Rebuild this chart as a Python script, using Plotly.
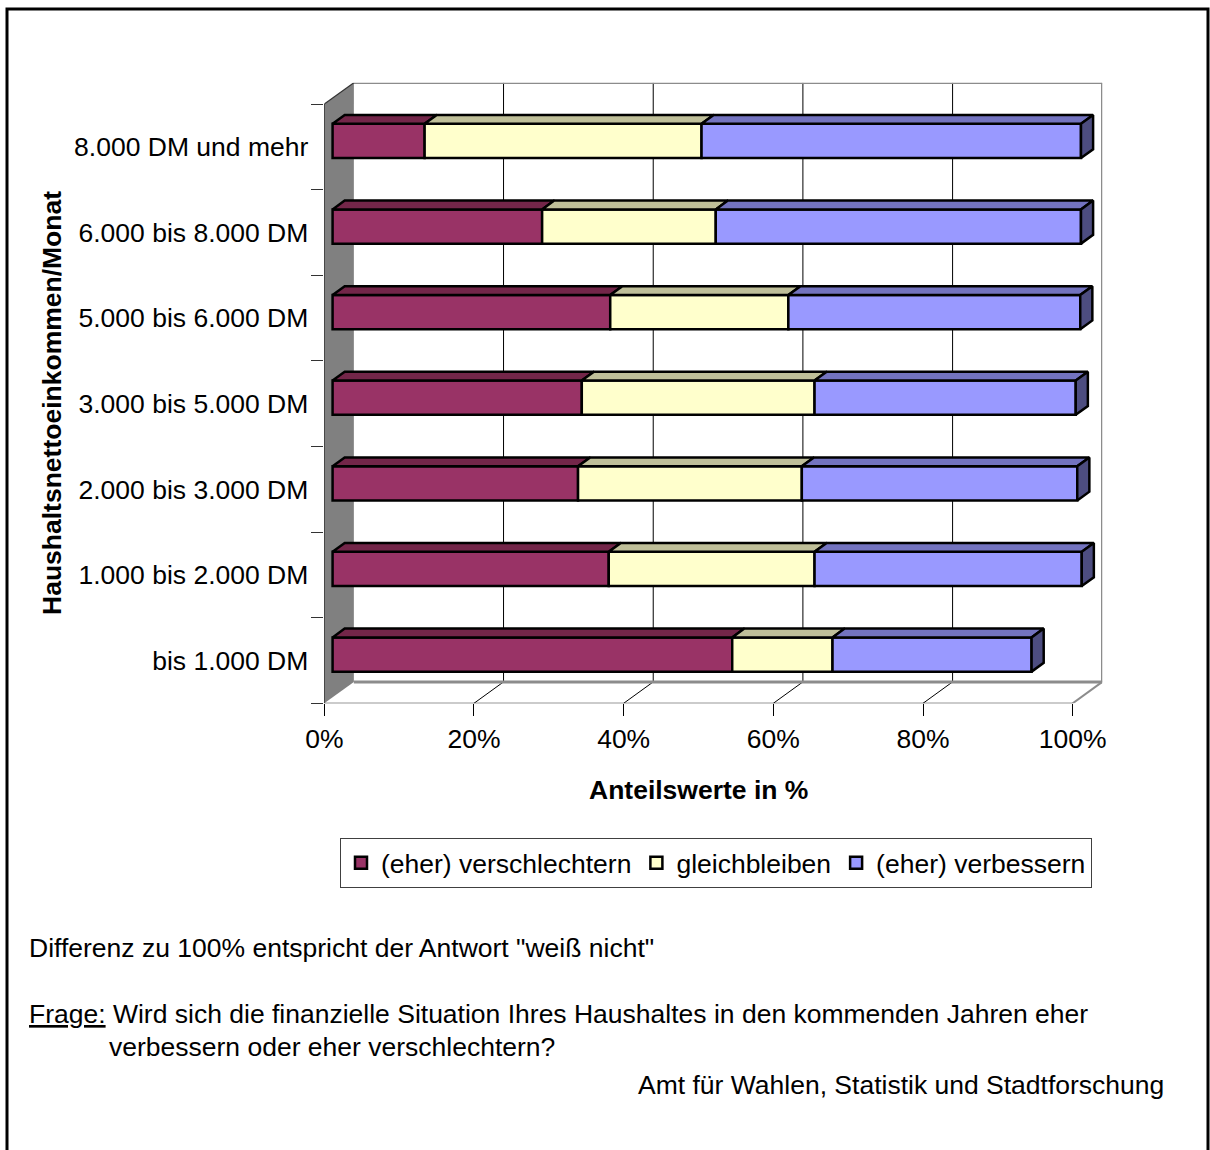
import plotly.graph_objects as go

# ---------------- data ----------------
categories = ["bis 1.000 DM", "1.000 bis 2.000 DM", "2.000 bis 3.000 DM",
              "3.000 bis 5.000 DM", "5.000 bis 6.000 DM", "6.000 bis 8.000 DM",
              "8.000 DM und mehr"]
verschlechtern = [53.4, 36.9, 32.8, 33.3, 37.1, 28.0, 12.3]
gleichbleiben = [13.4, 27.5, 29.9, 31.1, 23.8, 23.2, 37.0]
verbessern = [26.6, 35.7, 36.8, 34.9, 39.0, 48.8, 50.7]
series_names = ["(eher) verschlechtern", "gleichbleiben", "(eher) verbessern"]
x_ticks = [0, 20, 40, 60, 80, 100]
x_ticktext = ["0%", "20%", "40%", "60%", "80%", "100%"]

# ---------------- styling / geometry ----------------
W, H = 1210, 1150
FONT = "Liberation Sans, Arial, sans-serif"
FS = 26.5
DX, DY = 3.95, 0.25          # 3D depth offset in data units
D0, D1 = 0.28, 0.69          # bar front / back depth fraction
BW = 0.40                    # bar thickness (category units)
front_cols = ["#993366", "#FFFFCC", "#9999FF"]
top_cols = ["#732649", "#BFBF99", "#7373BF"]
side_col = "#4D4D80"

px0, px_per = 324.3, 7.484
x_range = [0, 100 + DX]
y_range = [-0.5, len(categories) - 0.5 + DY]
xdom = [px0 / W, (px0 + (x_range[1]) * px_per) / W]
ydom = [1 - 703.3 / H, 1 - 82.7 / H]


def P(x, y, d):
    return x + d * DX, y + d * DY


fig = go.Figure()

series = [verschlechtern, gleichbleiben, verbessern]
n = len(categories)
starts = [[0.0] * n for _ in series]
for i in range(n):
    acc = 0.0
    for s in range(len(series)):
        starts[s][i] = acc
        acc += series[s][i]

# front faces as bars
for s, vals in enumerate(series):
    fig.add_trace(go.Bar(
        orientation="h",
        y=[i + D0 * DY for i in range(n)],
        x=vals,
        base=[starts[s][i] + D0 * DX for i in range(n)],
        width=BW,
        name=series_names[s],
        marker=dict(color=front_cols[s], line=dict(color="black", width=2.5)),
        hoverinfo="skip",
    ))

# top faces
for s, vals in enumerate(series):
    xs, ys = [], []
    for i in range(n):
        x0 = starts[s][i]
        x1 = x0 + vals[i]
        yt = i + BW / 2
        for (px, py) in [P(x0, yt, D0), P(x1, yt, D0), P(x1, yt, D1), P(x0, yt, D1), P(x0, yt, D0)]:
            xs.append(px)
            ys.append(py)
        xs.append(None)
        ys.append(None)
    fig.add_trace(go.Scatter(x=xs, y=ys, mode="lines", fill="toself",
                             fillcolor=top_cols[s], line=dict(color="black", width=2.5),
                             showlegend=False, hoverinfo="skip"))

# right side faces of last segment
xs, ys = [], []
for i in range(n):
    xe = starts[-1][i] + series[-1][i]
    yb, yt = i - BW / 2, i + BW / 2
    for (px, py) in [P(xe, yb, D0), P(xe, yt, D0), P(xe, yt, D1), P(xe, yb, D1), P(xe, yb, D0)]:
        xs.append(px)
        ys.append(py)
    xs.append(None)
    ys.append(None)
fig.add_trace(go.Scatter(x=xs, y=ys, mode="lines", fill="toself", fillcolor=side_col,
                         line=dict(color="black", width=2.5), showlegend=False, hoverinfo="skip"))

# dummy trace for the label axis
fig.add_trace(go.Scatter(x=[None], y=[None], yaxis="y2", showlegend=False, hoverinfo="skip"))

# ---------------- walls, floor, gridlines (shapes) ----------------
shapes = []
ylo, yhi = -0.5, n - 0.5
# left wall
shapes.append(dict(type="path", xref="x", yref="y", layer="below",
                   path=f"M 0 {ylo} L 0 {yhi} L {DX} {yhi + DY} L {DX} {ylo + DY} Z",
                   fillcolor="#808080", line=dict(width=0)))
# gridlines on back wall + floor lines
for t in x_ticks[1:-1]:
    shapes.append(dict(type="line", xref="x", yref="y", layer="below",
                       x0=t + DX, x1=t + DX, y0=ylo + DY, y1=yhi + DY,
                       line=dict(color="black", width=1)))
    shapes.append(dict(type="line", xref="x", yref="y", layer="below",
                       x0=t, x1=t + DX, y0=ylo, y1=ylo + DY,
                       line=dict(color="black", width=1)))
# back wall border
shapes.append(dict(type="line", xref="x", yref="y", layer="below",
                   x0=DX, x1=100 + DX, y0=yhi + DY, y1=yhi + DY,
                   line=dict(color="#8c8c8c", width=2.5)))
shapes.append(dict(type="line", xref="x", yref="y", layer="below",
                   x0=100 + DX, x1=100 + DX, y0=ylo + DY, y1=yhi + DY,
                   line=dict(color="#8c8c8c", width=2.5)))
shapes.append(dict(type="line", xref="x", yref="y", layer="below",
                   x0=DX, x1=100 + DX, y0=ylo + DY, y1=ylo + DY,
                   line=dict(color="#8c8c8c", width=3)))
shapes.append(dict(type="line", xref="x", yref="y", layer="below",
                   x0=100, x1=100 + DX, y0=ylo, y1=ylo + DY,
                   line=dict(color="#8c8c8c", width=2)))
# front floor edge
shapes.append(dict(type="line", xref="x", yref="y", layer="below",
                   x0=0, x1=100, y0=ylo, y1=ylo,
                   line=dict(color="#333333", width=1.2)))
# left axis line + top diagonal
shapes.append(dict(type="line", xref="x", yref="y", layer="below",
                   x0=0, x1=0, y0=ylo, y1=yhi, line=dict(color="black", width=1.2)))
shapes.append(dict(type="line", xref="x", yref="y", layer="below",
                   x0=0, x1=DX, y0=yhi, y1=yhi + DY, line=dict(color="#333333", width=1.2)))
# outer frame
shapes.append(dict(type="rect", xref="paper", yref="paper",
                   x0=7 / W, x1=1208 / W, y0=-0.05, y1=1 - 9 / H,
                   line=dict(color="black", width=3), fillcolor="rgba(0,0,0,0)"))

annotations = [
    dict(text="<b>Anteilswerte in %</b>", xref="paper", yref="paper",
         x=698.5 / W, y=1 - 790 / H, xanchor="center", yanchor="middle",
         showarrow=False, font=dict(size=FS, color="black", family=FONT)),
    dict(text="<b>Haushaltsnettoeinkommen/Monat</b>", xref="paper", yref="paper",
         x=52 / W, y=1 - 403 / H, xanchor="center", yanchor="middle", textangle=-90,
         showarrow=False, font=dict(size=FS, color="black", family=FONT)),
    dict(text='Differenz zu 100% entspricht der Antwort "weiß nicht"', xref="paper", yref="paper",
         x=27 / W, y=1 - 948 / H, xanchor="left", yanchor="middle",
         showarrow=False, font=dict(size=FS, color="black", family=FONT)),
    dict(text="<u>Frage:</u> Wird sich die finanzielle Situation Ihres Haushaltes in den kommenden Jahren eher",
         xref="paper", yref="paper",
         x=27 / W, y=1 - 1014 / H, xanchor="left", yanchor="middle",
         showarrow=False, font=dict(size=FS, color="black", family=FONT)),
    dict(text="verbessern oder eher verschlechtern?", xref="paper", yref="paper",
         x=107 / W, y=1 - 1047 / H, xanchor="left", yanchor="middle",
         showarrow=False, font=dict(size=FS, color="black", family=FONT)),
    dict(text="Amt für Wahlen, Statistik und Stadtforschung", xref="paper", yref="paper",
         x=1166 / W, y=1 - 1085 / H, xanchor="right", yanchor="middle",
         showarrow=False, font=dict(size=FS, color="black", family=FONT)),
]

fig.update_layout(
    width=W, height=H,
    margin=dict(l=0, r=0, t=0, b=0, autoexpand=False),
    paper_bgcolor="white", plot_bgcolor="white",
    barmode="overlay",
    font=dict(family=FONT, size=FS, color="black"),
    xaxis=dict(domain=xdom, range=x_range, tickvals=x_ticks, ticktext=x_ticktext,
               ticks="outside", ticklen=12, tickcolor="black", tickwidth=1,
               showgrid=False, zeroline=False, showline=False, fixedrange=True,
               tickfont=dict(size=FS, family=FONT, color="black")),
    yaxis=dict(domain=ydom, range=y_range,
               tickvals=[k - 0.5 for k in range(n + 1)],
               ticks="outside", ticklen=12, tickcolor="#333333", tickwidth=1,
               showticklabels=False, showgrid=False, zeroline=False, showline=False),
    yaxis2=dict(domain=ydom, range=y_range, overlaying="y", anchor="x", side="left",
                tickvals=list(range(n)), ticktext=categories, ticks="",
                ticklabelstandoff=15,
                showgrid=False, zeroline=False, showline=False,
                tickfont=dict(size=FS, family=FONT, color="black")),
    legend=dict(orientation="h", x=716 / W, xanchor="center", y=1 - 838 / H, yanchor="top",
                bordercolor="#404040", borderwidth=1, bgcolor="white",
                font=dict(size=FS, family=FONT, color="black"),
                itemwidth=30, traceorder="normal"),
    shapes=shapes,
    annotations=annotations,
)

fig.write_html("out.html")
